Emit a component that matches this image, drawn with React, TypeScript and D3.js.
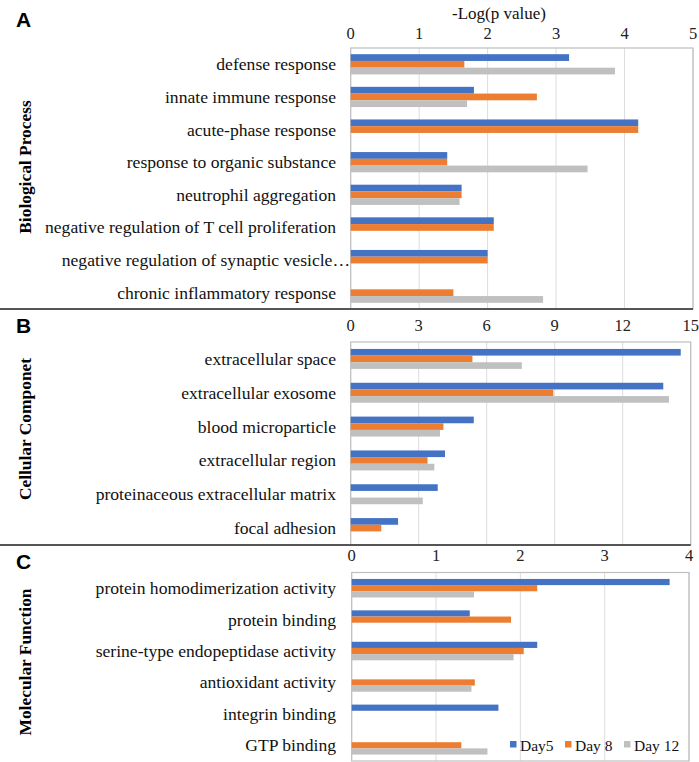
import * as d3 from "d3";

// Series labels and colours
const SERIES = ["Day5", "Day 8", "Day 12"];
const COLORS = ["#4472C4", "#ED7D31", "#C0C0C0"];

// A. Biological Process
const bpCategories = [
  "defense response",
  "innate immune response",
  "acute-phase response",
  "response to organic substance",
  "neutrophil aggregation",
  "negative regulation of T cell proliferation",
  "negative regulation of synaptic vesicle…",
  "chronic inflammatory response",
];
const bpDay5 = [3.19, 1.8, 4.2, 1.41, 1.62, 2.09, 2.0, 0];
const bpDay8 = [1.66, 2.72, 4.2, 1.41, 1.62, 2.09, 2.0, 1.5];
const bpDay12 = [3.86, 1.7, 0, 3.46, 1.59, 0, 0, 2.81];
const bpTicks = [0, 1, 2, 3, 4, 5];

// B. Cellular Component
const ccCategories = [
  "extracellular space",
  "extracellular exosome",
  "blood microparticle",
  "extracellular region",
  "proteinaceous extracellular matrix",
  "focal adhesion",
];
const ccDay5 = [14.56, 13.79, 5.43, 4.16, 3.84, 2.09];
const ccDay8 = [5.37, 8.94, 4.09, 3.39, 0, 1.35];
const ccDay12 = [7.55, 14.04, 3.94, 3.69, 3.18, 0];
const ccTicks = [0, 3, 6, 9, 12, 15];

// C. Molecular Function
const mfCategories = [
  "protein homodimerization activity",
  "protein binding",
  "serine-type endopeptidase activity",
  "antioxidant activity",
  "integrin binding",
  "GTP binding",
];
const mfDay5 = [3.77, 1.4, 2.2, 0, 1.74, 0];
const mfDay8 = [2.2, 1.89, 2.04, 1.46, 0, 1.3];
const mfDay12 = [1.45, 0, 1.92, 1.42, 0, 1.61];
const mfTicks = [0, 1, 2, 3, 4];

const SERIF = "'Liberation Serif', 'Times New Roman', serif";
const SANS = "'Liberation Sans', Arial, sans-serif";

type PanelProps = {
  letter: string;
  letterY: number;
  title: string;
  titleY: number;
  categories: string[];
  values: number[][];
  ticks: number[];
  top: number;
  bottom: number;
  left: number;
  right: number;
  tickY: number;
  padding: number;
  divider?: boolean;
};

function Panel(p: PanelProps) {
  const x = d3
    .scaleLinear()
    .domain([0, p.ticks[p.ticks.length - 1]])
    .range([p.left, p.right]);

  const y = d3
    .scaleBand<string>()
    .domain(p.categories)
    .range([p.top, p.bottom])
    .paddingInner(p.padding)
    .paddingOuter(p.padding / 2);

  const inner = d3
    .scaleBand<number>()
    .domain(d3.range(SERIES.length))
    .range([0, y.bandwidth()]);

  return (
    <g>
      {/* gridlines */}
      {p.ticks.map(t => (
        <line
          key={"g" + t}
          x1={x(t)}
          x2={x(t)}
          y1={p.top}
          y2={p.bottom}
          stroke="#dcdcdc"
          strokeWidth={1}
        />
      ))}
      {/* frame */}
      <rect
        x={p.left}
        y={p.top}
        width={p.right - p.left}
        height={p.bottom - p.top}
        fill="none"
        stroke="#bfbfbf"
        strokeWidth={1.2}
      />
      {/* tick labels */}
      {p.ticks.map(t => (
        <text
          key={"t" + t}
          x={x(t)}
          y={p.tickY}
          textAnchor="middle"
          dominantBaseline="central"
          fontFamily={SERIF}
          fontSize={16.5}
          fill="#222"
        >
          {t}
        </text>
      ))}
      {/* bars */}
      {p.categories.map((c, i) => (
        <g key={c}>
          {p.values.map((vals, s) =>
            vals[i] > 0 ? (
              <rect
                key={s}
                x={x(0)}
                y={y(c)! + inner(s)!}
                width={x(vals[i]) - x(0)}
                height={inner.bandwidth()}
                fill={COLORS[s]}
              />
            ) : null
          )}
          <text
            x={c.endsWith("…") ? 350 : 336}
            y={y(c)! + y.bandwidth() / 2}
            textAnchor="end"
            dominantBaseline="central"
            fontFamily={SERIF}
            fontSize={17.6}
            fill="#111"
          >
            {c}
          </text>
        </g>
      ))}
      {/* panel letter */}
      <text
        x={16}
        y={p.letterY}
        dominantBaseline="central"
        fontFamily={SANS}
        fontWeight="bold"
        fontSize={21}
        fill="#000"
      >
        {p.letter}
      </text>
      {/* category axis title */}
      <text
        transform={`translate(25,${p.titleY}) rotate(-90)`}
        textAnchor="middle"
        dominantBaseline="central"
        fontFamily={SERIF}
        fontWeight="bold"
        fontSize={17.4}
        fill="#000"
      >
        {p.title}
      </text>
      {p.divider && (
        <line
          x1={0}
          x2={p.right}
          y1={p.bottom}
          y2={p.bottom}
          stroke="#555"
          strokeWidth={1.8}
        />
      )}
    </g>
  );
}

export default function App() {
  const legendX = [510, 565, 624];
  return (
    <svg
      width={699}
      height={762}
      style={{ position: "absolute", left: 0, top: 0, background: "#fff" }}
    >
      <rect width={699} height={762} fill="#fff" />
      <text
        x={499}
        y={13}
        textAnchor="middle"
        dominantBaseline="central"
        fontFamily={SERIF}
        fontSize={17}
        fill="#111"
      >
        -Log(p value)
      </text>

      <Panel
        letter="A"
        letterY={19}
        title="Biological Process"
        titleY={167}
        categories={bpCategories}
        values={[bpDay5, bpDay8, bpDay12]}
        ticks={bpTicks}
        top={48}
        bottom={309}
        left={350.7}
        right={693}
        tickY={33}
        padding={0.38}
        divider
      />
      <Panel
        letter="B"
        letterY={325}
        title="Cellular Componet"
        titleY={429}
        categories={ccCategories}
        values={[ccDay5, ccDay8, ccDay12]}
        ticks={ccTicks}
        top={342}
        bottom={545}
        left={350.7}
        right={690.7}
        tickY={325}
        padding={0.41}
        divider
      />
      <Panel
        letter="C"
        letterY={561}
        title="Molecular Function"
        titleY={662}
        categories={mfCategories}
        values={[mfDay5, mfDay8, mfDay12]}
        ticks={mfTicks}
        top={572.5}
        bottom={761}
        left={351.7}
        right={689}
        tickY={555}
        padding={0.41}
      />

      {/* legend */}
      {SERIES.map((s, i) => (
        <g key={s}>
          <rect x={legendX[i]} y={741} width={6.5} height={6.5} fill={COLORS[i]} />
          <text
            x={legendX[i] + 10}
            y={745}
            dominantBaseline="central"
            fontFamily={SERIF}
            fontSize={15.5}
            fill="#111"
          >
            {s}
          </text>
        </g>
      ))}
    </svg>
  );
}
